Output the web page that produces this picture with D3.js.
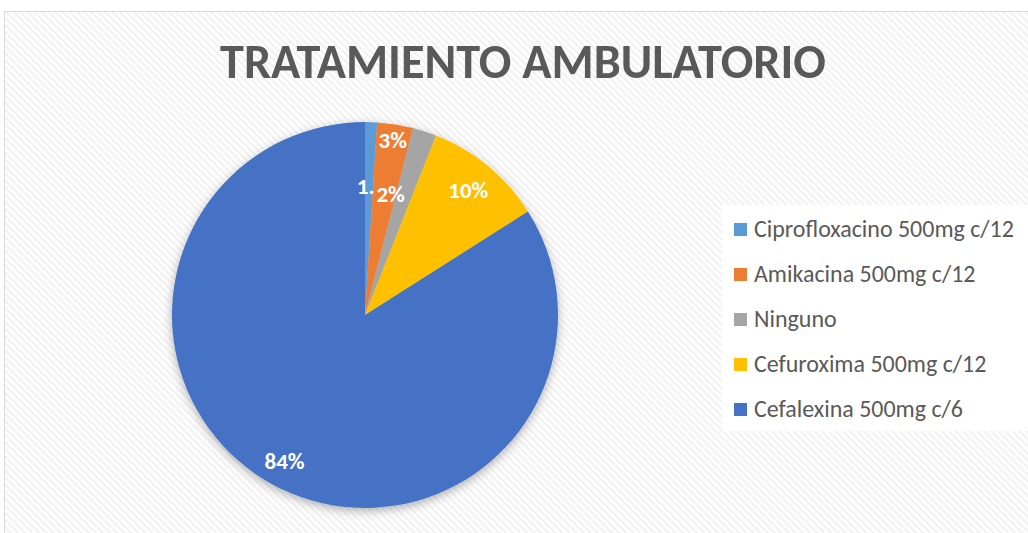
<!DOCTYPE html>
<html>
<head>
<meta charset="utf-8">
<script src="https://cdn.jsdelivr.net/npm/d3@7"></script>
<style>
  body { margin: 0; background: #fff; }
  svg { display: block; }
</style>
</head>
<body>
<script>
(function(){

//chart data
var categories = ["Ciprofloxacino 500mg c/12", "Amikacina 500mg c/12", "Ninguno",
                  "Cefuroxima 500mg c/12", "Cefalexina 500mg c/6"];
var values = [1, 3, 2, 10, 84];
var labels = ["1.", "3%", "2%", "10%", "84%"];
var colors = ["#5B9BD5", "#ED7D31", "#A5A5A5", "#FFC000", "#4472C4"];
var title = "TRATAMIENTO AMBULATORIO";

//label placement (fraction of radius, angle nudge in degrees) - excel best fit look
var labelPos = [[0.67, -1.5], [0.92, 0], [0.64, -6], [0.84, 0], [0.865, 0]];

var width = 1028,
    height = 533;

var svg = d3.select("body")
    .append("svg")
    .attr("width", width)
    .attr("height", height);

var defs = svg.append("defs");

//diagonal stripe background
var pat = defs.append("pattern")
    .attr("id", "stripes")
    .attr("patternUnits", "userSpaceOnUse")
    .attr("width", 5)
    .attr("height", 5)
    .attr("patternTransform", "rotate(-45)");
pat.append("rect").attr("width", 5).attr("height", 5).attr("fill", "#fdfdfd");
pat.append("rect").attr("width", 2).attr("height", 5).attr("fill", "#f1f1f1");

//soft shadow under the pie
var filt = defs.append("filter")
    .attr("id", "shadow")
    .attr("x", "-20%").attr("y", "-20%")
    .attr("width", "140%").attr("height", "140%");
filt.append("feDropShadow")
    .attr("dx", 0).attr("dy", 3)
    .attr("stdDeviation", 5)
    .attr("flood-color", "#000")
    .attr("flood-opacity", 0.3);

//chart area
svg.append("rect")
    .attr("x", 4.5).attr("y", 11.5)
    .attr("width", width + 10).attr("height", height)
    .attr("fill", "url(#stripes)")
    .attr("stroke", "#d9d9d9");

//title, sized to match the reference width
var titleText = svg.append("text")
    .attr("x", 523)
    .attr("y", 78)
    .attr("text-anchor", "middle")
    .style("font-family", "Carlito, Lato, 'Open Sans', sans-serif")
    .style("font-weight", "bold")
    .style("font-size", "40px")
    .attr("fill", "#595959")
    .text(title);
var tw = titleText.node().getComputedTextLength();
titleText.style("font-size", (40 * 606 / tw) + "px");

//pie
var cx = 365, cy = 315, radius = 193;

var pie = d3.pie().sort(null).value(function(d){ return d; });
var arc = d3.arc().innerRadius(0).outerRadius(radius);
var arcs = pie(values);

var g = svg.append("g").attr("transform", "translate(" + cx + "," + cy + ")");

g.append("g")
    .attr("filter", "url(#shadow)")
    .selectAll("path")
    .data(arcs)
    .enter()
    .append("path")
    .attr("d", arc)
    .attr("fill", function(d, i){ return colors[i]; });

g.selectAll(".lbl")
    .data(arcs)
    .enter()
    .append("text")
    .attr("class", "lbl")
    .attr("transform", function(d, i){
        var a = (d.startAngle + d.endAngle) / 2 + labelPos[i][1] * Math.PI / 180;
        var r = radius * labelPos[i][0];
        return "translate(" + (r * Math.sin(a)) + "," + (-r * Math.cos(a)) + ")";
    })
    .attr("text-anchor", "middle")
    .attr("dy", "0.35em")
    .style("font-family", "Carlito, Lato, 'Open Sans', sans-serif")
    .style("font-weight", "bold")
    .style("font-size", "23px")
    .attr("fill", "#fff")
    .text(function(d, i){ return labels[i]; });

//legend
var legend = svg.append("g");
legend.append("rect")
    .attr("x", 722).attr("y", 205)
    .attr("width", 320).attr("height", 226)
    .attr("fill", "#fff");

var rowY = d3.scalePoint()
    .domain(categories)
    .range([229, 409]);

var rows = legend.selectAll(".row")
    .data(categories)
    .enter()
    .append("g")
    .attr("class", "row")
    .attr("transform", function(d){ return "translate(734," + rowY(d) + ")"; });

rows.append("rect")
    .attr("x", 0).attr("y", -6)
    .attr("width", 13).attr("height", 13)
    .attr("fill", function(d, i){ return colors[i]; });

var legText = rows.append("text")
    .attr("x", 20)
    .attr("dy", "0.35em")
    .style("font-family", "Carlito, Lato, 'Open Sans', sans-serif")
    .style("font-size", "19px")
    .attr("fill", "#595959")
    .text(function(d){ return d; });

//fit legend font so first entry spans like the reference
var lw = legText.node().getComputedTextLength();
legText.style("font-size", (19 * 260 / lw) + "px");

})();
</script>
</body>
</html>
